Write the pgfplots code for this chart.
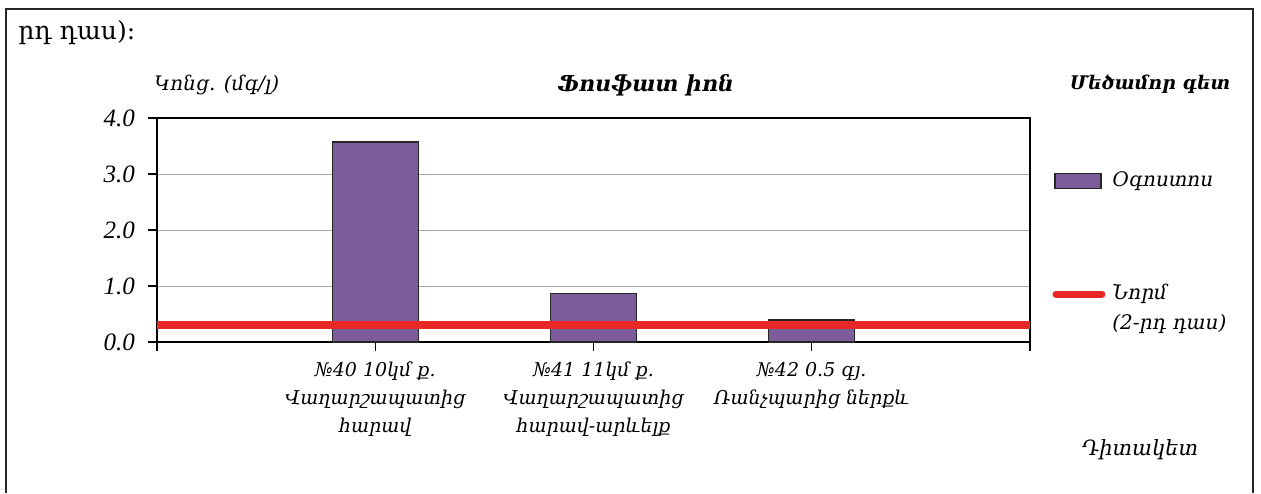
\documentclass[border=0pt]{standalone}
\usepackage{fontspec}
\setmainfont{Liberation Serif}
\newfontfamily\arm{DejaVu Serif}
\usepackage{pgfplots}
\pgfplotsset{compat=1.18}
\definecolor{barpurple}{RGB}{124,92,154}
\definecolor{normred}{RGB}{232,40,36}
\begin{document}
\begin{tikzpicture}
\useasboundingbox (0,0) rectangle (630.5pt,246.5pt);
\draw[line width=1pt, black!85] (3pt,0pt) -- (3pt,242pt) -- (626.5pt,242pt) -- (626.5pt,0pt);
\node[anchor=west, inner sep=0pt] at (9pt,230pt) {\arm\fontsize{12.5}{14}\selectfont րդ դաս):};
\node[anchor=west, inner sep=0pt] at (77pt,204pt) {\arm\itshape\fontsize{10}{12}\selectfont Կոնց. (մգ/լ)};
\node[inner sep=0pt] at (323pt,204pt) {\arm\bfseries\itshape\fontsize{11}{13}\selectfont Ֆոսֆատ իոն};
\node[inner sep=0pt] at (575pt,204.5pt) {\arm\bfseries\itshape\fontsize{9.4}{13}\selectfont Մեծամոր գետ};
\node[inner sep=0pt] at (570pt,21.5pt) {\arm\itshape\fontsize{10.5}{13}\selectfont Դիտակետ};
\begin{axis}[
  at={(78.5pt,75.5pt)}, anchor=south west,
  scale only axis, width=436.5pt, height=112pt,
  xmin=0, xmax=4, ymin=0, ymax=4,
  xtick={0,1,2,3,4},
  xticklabels={,{№40 10կմ ք.\\Վաղարշապատից\\հարավ},{№41 11կմ ք.\\Վաղարշապատից\\հարավ-արևելք},{№42 0.5 գյ.\\Ռանչպարից ներքև},},
  xticklabel style={align=center, font=\arm\itshape\fontsize{9.5}{14}\selectfont, yshift=-2pt},
  ytick={0,1,2,3,4},
  /pgf/number format/assume math mode=true,
  yticklabel style={/pgf/number format/fixed, /pgf/number format/fixed zerofill, /pgf/number format/precision=1, font=\itshape\fontsize{12.5}{14}\selectfont, xshift=-3pt},
  xtick pos=bottom, ytick pos=left,
  tick align=outside, major tick length=4.5pt,
  tick style={black, line width=0.6pt},
  axis line style={black, line width=0.8pt},
  ymajorgrids, grid style={gray!70, line width=0.5pt},
  legend cell align=left,
  legend style={at={(1.0252,0.759)}, anchor=north west, draw=none, fill=none, inner sep=0pt, row sep=6pt, column sep=3.5pt,
    nodes={inner sep=0pt, text height=7pt, text depth=2pt, font=\arm\itshape\fontsize{10}{12}\selectfont}},
]
\addplot[ybar, bar width=43pt, fill=barpurple, draw=black!85, line width=0.7pt,
  legend image code/.code={\draw[fill=barpurple, draw=black!85, line width=0.6pt] (0pt,-3.75pt) rectangle (23pt,3.75pt); \path (0pt,-45.5pt);}]
  coordinates {(1,3.57) (2,0.87) (3,0.39)};
\addlegendentry{Օգոստոս}
\addplot[normred, line width=4pt,
  legend image code/.code={\draw[normred, line width=3.5pt, line cap=round] (0.5pt,0pt) -- (23.5pt,0pt);}]
  coordinates {(0,0.3) (4,0.3)};
\addlegendentry{Նորմ}
\addlegendimage{empty legend}
\addlegendentry{(2-րդ դաս)}
\end{axis}
\end{tikzpicture}
\end{document}
